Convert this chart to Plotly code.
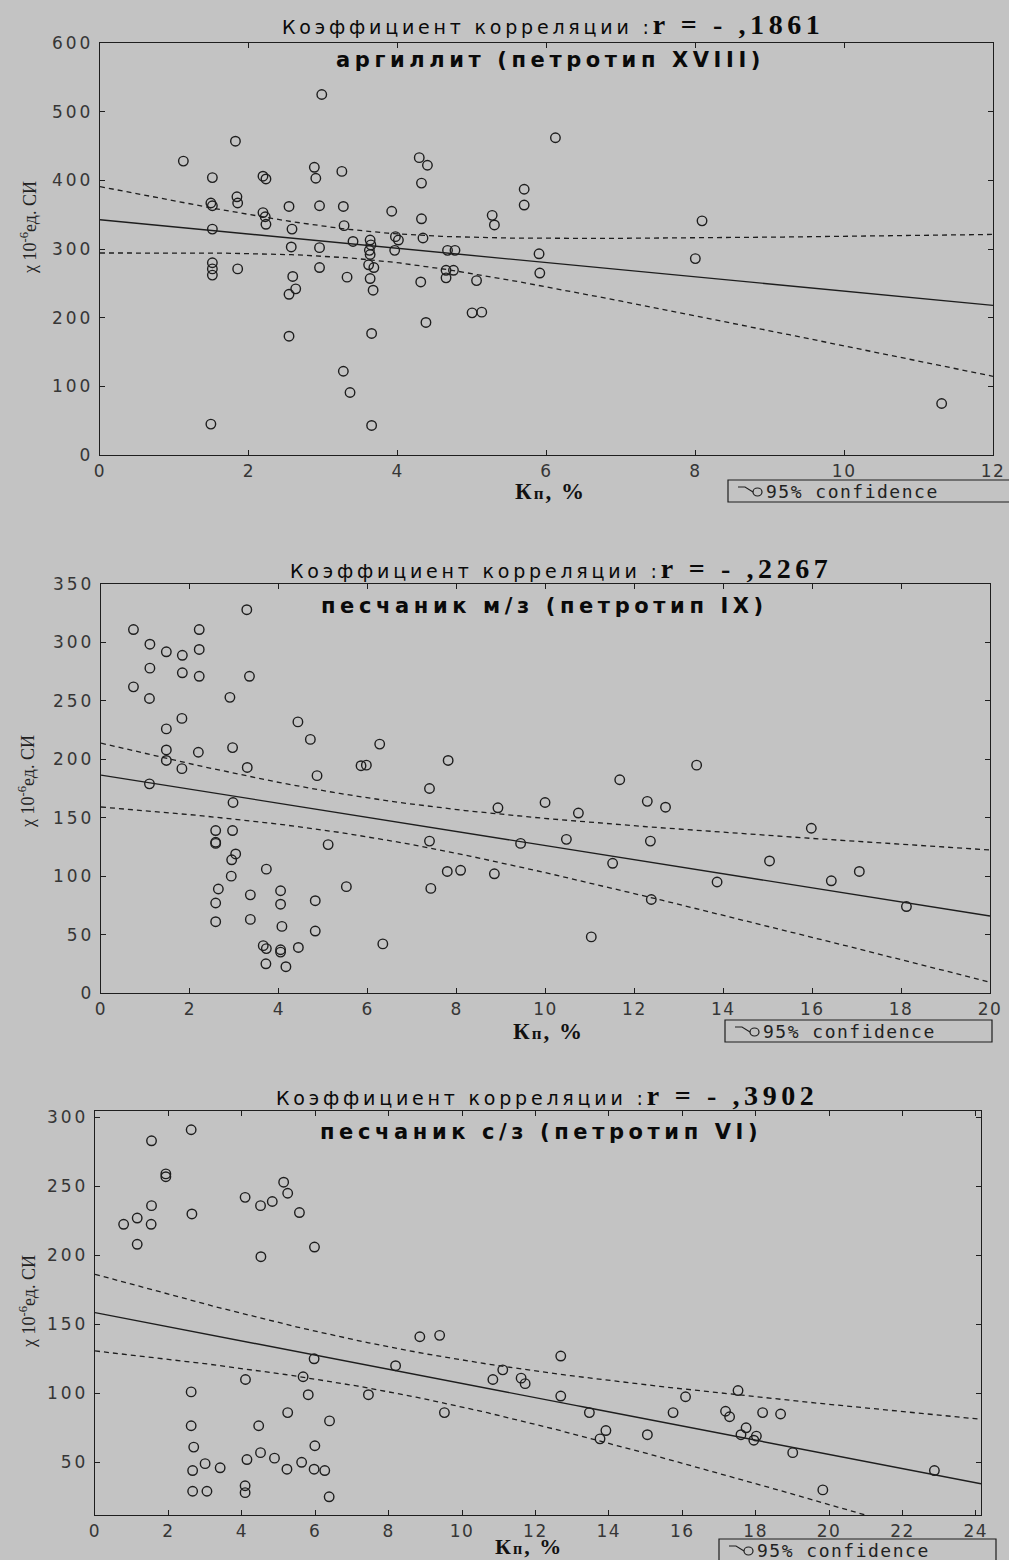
import numpy as np
import plotly.graph_objects as go

W, H = 1009, 1560
BG = '#c3c3c3'
INK = '#1e1e1e'

# ---------------- data ----------------
# Plot 1: аргиллит (петротип XVIII)
x1 = [2.98, 1.82, 1.12, 1.51, 2.19, 2.23, 2.88, 2.90, 3.25, 4.29, 4.40, 4.32, 5.70, 5.70,
      1.49, 1.51, 1.84, 1.85, 2.54, 2.95, 3.27, 3.92, 4.32, 5.27, 5.30, 2.19, 2.22, 2.23,
      1.51, 2.58, 3.28, 3.40, 3.63, 3.64, 3.62, 3.63, 3.97, 4.01, 4.34, 3.96, 2.57, 2.95,
      4.67, 4.77, 5.90, 1.51, 1.51, 1.51, 1.85, 2.95, 3.61, 3.68, 4.65, 4.75, 4.65, 5.91,
      2.59, 3.32, 3.63, 4.31, 5.06, 2.63, 2.54, 3.67, 5.00, 5.13, 4.38, 2.54, 3.65, 3.27,
      3.36, 1.49, 3.65, 6.12, 8.09, 8.00, 11.31]
y1 = [525, 457, 428, 404, 406, 402, 419, 403, 413, 433, 422, 396, 387, 364,
      367, 363, 376, 367, 362, 363, 362, 355, 344, 349, 335, 353, 347, 336,
      329, 329, 334, 311, 313, 306, 298, 292, 318, 313, 316, 298, 303, 302,
      298, 298, 293, 280, 271, 262, 271, 273, 277, 273, 269, 269, 258, 265,
      260, 259, 257, 252, 254, 242, 234, 240, 207, 208, 193, 173, 177, 122,
      91, 45, 43, 462, 341, 286, 75]

# Plot 2: песчаник м/з (петротип IX)
x2 = [3.28, 0.73, 2.21, 1.10, 1.47, 1.83, 2.21, 1.10, 1.83, 2.21, 3.34, 0.73, 1.09, 2.90,
      1.82, 1.47, 4.43, 4.71, 6.27, 1.47, 2.19, 2.96, 1.47, 1.82, 3.29, 5.85, 5.97, 7.81,
      4.86, 1.09, 7.39, 2.97, 8.93, 9.99, 2.58, 2.96, 2.58, 2.58, 7.39, 5.11, 9.44, 3.03,
      2.94, 2.93, 3.72, 7.79, 8.09, 8.85, 5.52, 7.42, 2.64, 2.58, 3.36, 4.04, 4.04, 4.82,
      2.58, 3.36, 4.07, 4.82, 3.65, 3.72, 4.04, 4.04, 4.44, 6.34, 3.71, 4.16, 11.67, 12.29,
      12.70, 13.40, 10.74, 10.47, 12.36, 11.51, 13.86, 12.38, 11.03, 15.04, 15.98, 16.43,
      17.06, 18.12]
y2 = [328, 311, 311, 298.5, 292, 289, 294, 278, 274, 271, 271, 262, 252, 253,
      235, 226, 232, 217, 213, 208, 206, 210, 199, 192, 193, 194.5, 195, 199,
      186, 179, 175, 163, 158.5, 163, 139, 139, 129, 128, 130, 127, 128, 119,
      114, 100, 106, 104, 105, 102, 91, 89.5, 89, 77, 84, 87.5, 76, 79,
      61, 63, 57, 53, 40.5, 38, 37, 35, 39, 42, 25, 22.5, 182.5, 164,
      159, 195, 154, 131.5, 130, 111, 95, 80, 48, 113, 141, 96,
      104, 74]

# Plot 3: песчаник с/з (петротип VI)
x3 = [2.62, 1.54, 1.93, 1.93, 5.14, 5.25, 4.09, 4.51, 4.83, 5.57, 2.64, 1.54, 1.15, 0.78,
      1.53, 1.15, 5.98, 4.52, 8.85, 9.39, 5.97, 8.19, 11.11, 10.84, 11.61, 11.72, 5.67, 4.10,
      2.62, 5.81, 7.45, 9.52, 5.25, 6.39, 2.62, 4.46, 2.69, 5.99, 4.51, 4.89, 4.14, 3.00,
      3.41, 5.63, 2.66, 5.23, 5.97, 6.26, 2.66, 3.05, 4.09, 4.09, 6.38, 12.69, 12.69, 13.47,
      13.92, 13.76, 15.05, 15.75, 16.09, 17.52, 17.18, 17.29, 18.19, 18.68, 17.74, 17.60,
      18.02, 17.95, 19.01, 19.83, 22.87]
y3 = [291, 283, 259, 257, 253, 245, 242, 236, 239, 231, 230, 236, 227, 222.5,
      222.5, 208, 206, 199, 141, 142, 125, 120, 117, 110, 111, 107, 112, 110,
      101, 99, 99, 86, 86, 80, 76.5, 76.5, 61, 62, 57, 53, 52, 49,
      46, 50, 44, 45, 45, 44, 29, 29, 33, 28, 25, 127, 98, 86,
      73, 67, 70, 86, 97.5, 102, 87, 83, 86, 85, 75, 70,
      69, 66, 57, 30, 44]

r_values = ['- ,1861', '- ,2267', '- ,3902']
subtitles = ['аргиллит (петротип XVIII)', 'песчаник м/з (петротип IX)', 'песчаник с/з (петротип VI)']
x_ranges = [[0, 12], [0, 20], [0, 24.14]]
y_ranges = [[0, 600], [0, 350], [11.8, 304.6]]
x_ticks = [list(range(0, 13, 2)), list(range(0, 21, 2)), list(range(0, 25, 2))]
y_ticks = [list(range(0, 601, 100)), list(range(0, 351, 50)), list(range(50, 301, 50))]
legend_label = '95% confidence'

datasets = [(x1, y1), (x2, y2), (x3, y3)]

# ---------------- layout geometry (page pixels) ----------------
frames = [(100, 993, 43, 455), (101, 990, 584, 993), (95, 981, 1111, 1515)]
title_pos = [(553, 25), (561, 568), (547, 1095)]
sub_pos = [(550, 60), (544, 606), (541, 1132)]
ytitle_pos = [(28, 228), (26, 782), (27, 1302)]
# (x, y, anchor, size) of the x-axis titles
xtitle_pos = [(550, 491, 'middle', 23), (548, 1031, 'middle', 23), (529, 1560, 'bottom', 22)]
legend_box = [(728, 480, 1030, 502), (725, 1020, 992, 1042), (719, 1539, 996, 1580)]

T95 = 1.985


def fit_with_ci(x, y, xa, xb):
    x = np.asarray(x, float)
    y = np.asarray(y, float)
    n = len(x)
    b, a = np.polyfit(x, y, 1)
    xm = x.mean()
    sxx = ((x - xm) ** 2).sum()
    s = np.sqrt(((y - (a + b * x)) ** 2).sum() / (n - 2))
    xs = np.linspace(xa, xb, 150)
    yh = a + b * xs
    se = s * np.sqrt(1.0 / n + (xs - xm) ** 2 / sxx)
    return xs, yh, yh - T95 * se, yh + T95 * se


def px(p):
    return p / W


def py(p):
    return 1 - p / H


def spaced(v, sp=2):
    return "<span style='letter-spacing:%spx'>%s</span>" % (sp, v)


fig = go.Figure()
annotations = []
shapes = []
layout_axes = {}

for i, (xd, yd) in enumerate(datasets):
    k = '' if i == 0 else str(i + 1)
    xa_name, ya_name = 'x' + k, 'y' + k
    fl, fr, ft, fb = frames[i]
    common = dict(ticks='inside', ticklen=5, tickcolor=INK, tickwidth=1.2,
                  showline=True, linecolor=INK, linewidth=1.3, mirror='ticks',
                  showgrid=False, zeroline=False, automargin=False,
                  ticklabeloverflow='allow',
                  tickfont=dict(family='DejaVu Sans', size=17, color='#363636'))
    layout_axes['xaxis' + k] = dict(
        domain=[px(fl), px(fr)], range=x_ranges[i], tickvals=x_ticks[i],
        ticktext=[spaced(v, 1.5) for v in x_ticks[i]], anchor=ya_name, **common)
    layout_axes['yaxis' + k] = dict(
        domain=[py(fb), py(ft)], range=y_ranges[i], tickvals=y_ticks[i],
        ticktext=[spaced(v, 3) for v in y_ticks[i]], anchor=xa_name,
        ticklabelstandoff=2, **common)

    xs, yh, lo, hi = fit_with_ci(xd, yd, x_ranges[i][0], x_ranges[i][1])
    for band in (hi, lo):
        fig.add_trace(go.Scatter(x=xs, y=band, mode='lines', xaxis=xa_name, yaxis=ya_name,
                                 line=dict(color=INK, width=1.3, dash='5px,4px'),
                                 showlegend=False, hoverinfo='skip'))
    fig.add_trace(go.Scatter(x=xs, y=yh, mode='lines', xaxis=xa_name, yaxis=ya_name,
                             line=dict(color=INK, width=1.4),
                             showlegend=False, hoverinfo='skip'))
    fig.add_trace(go.Scatter(x=xd, y=yd, mode='markers', xaxis=xa_name, yaxis=ya_name,
                             marker=dict(symbol='circle-open', size=9.5, color=INK,
                                         line=dict(width=1.4, color=INK)),
                             showlegend=False))

    # legend box drawn as shapes + text
    bl, bt, br, bb = legend_box[i]
    shapes.append(dict(type='rect', xref='paper', yref='paper',
                       x0=px(bl), x1=px(br), y0=py(bb), y1=py(bt),
                       line=dict(color=INK, width=1.2), fillcolor='rgba(0,0,0,0)'))
    cy = bt + 11
    ix = bl + 10
    shapes.append(dict(type='path', xref='paper', yref='paper',
                       path='M %f %f L %f %f L %f %f' % (px(ix), py(cy - 4), px(ix + 7), py(cy - 4),
                                                      px(ix + 15), py(cy + 1)),
                       line=dict(color=INK, width=1.1)))
    shapes.append(dict(type='circle', xref='paper', yref='paper',
                       x0=px(ix + 15), x1=px(ix + 24), y0=py(cy + 5), y1=py(cy - 3),
                       line=dict(color=INK, width=1.2)))
    annotations.append(dict(
        x=px(ix + 26), y=py(cy), xref='paper', yref='paper', xanchor='left', yanchor='middle',
        showarrow=False, text=spaced(legend_label, 1.5),
        font=dict(family='DejaVu Sans Mono', size=18, color='#222')))

    tx, ty = title_pos[i]
    annotations.append(dict(
        x=px(tx), y=py(ty), xref='paper', yref='paper', xanchor='center', yanchor='middle',
        showarrow=False,
        text=("<span style='letter-spacing:3.8px'>Коэффициент корреляции :</span>"
              "<span style='font-family:Liberation Serif;font-size:28px;letter-spacing:4.6px'><b>r = "
              + r_values[i] + "</b></span>"),
        font=dict(family='DejaVu Sans', size=19, color='#0a0a0a')))
    sx, sy = sub_pos[i]
    annotations.append(dict(
        x=px(sx), y=py(sy), xref='paper', yref='paper', xanchor='center', yanchor='middle',
        showarrow=False,
        text="<b><span style='letter-spacing:4.6px'>" + subtitles[i] + "</span></b>",
        font=dict(family='DejaVu Sans', size=21, color='#0a0a0a')))
    yx, yy = ytitle_pos[i]
    annotations.append(dict(
        x=px(yx), y=py(yy), xref='paper', yref='paper', xanchor='center', yanchor='middle',
        showarrow=False, textangle=-90,
        text="χ 10<sup>-6</sup>ед. СИ",
        font=dict(family='Liberation Serif', size=18, color='#222')))
    xx, xy, xanc, xsize = xtitle_pos[i]
    annotations.append(dict(
        x=px(xx), y=py(xy), xref='paper', yref='paper', xanchor='center', yanchor=xanc,
        showarrow=False, borderpad=0,
        text="<b><span style='letter-spacing:2px'>К<span style='font-size:%dpx'>п</span>, %%</span></b>"
             % (xsize - 6),
        font=dict(family='Liberation Serif', size=xsize, color='#111')))

fig.update_layout(
    width=W, height=H, margin=dict(l=0, r=0, t=0, b=0, autoexpand=False),
    paper_bgcolor=BG, plot_bgcolor=BG, showlegend=False,
    annotations=annotations, shapes=shapes, **layout_axes)

# remove the browser's default 8px body margin so the 1009x1560 figure fills the window
fig.write_html('out.html', config={'displayModeBar': False},
               post_script="document.body.style.margin='0px';document.body.style.overflow='hidden';")
